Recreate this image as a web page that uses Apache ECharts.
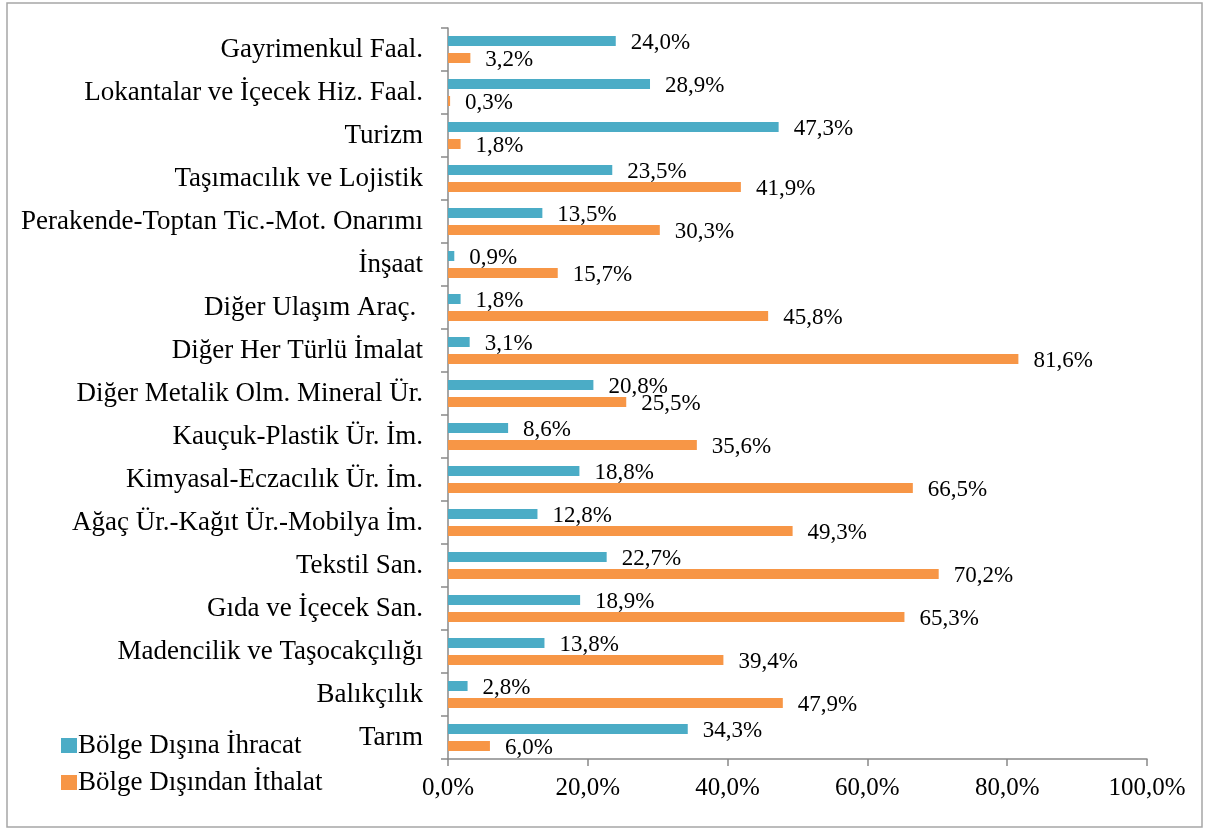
<!DOCTYPE html>
<html>
<head>
<meta charset="utf-8">
<script src="https://cdn.jsdelivr.net/npm/echarts@6/dist/echarts.min.js"></script>
<style>
  html, body { margin: 0; padding: 0; background: #fff; }
  #chart { width: 1206px; height: 829px; }
</style>
</head>
<body>
<div id="chart"></div>
<script>
// top to bottom, as in the picture
const sektorler = [
  "Gayrimenkul Faal.",
  "Lokantalar ve İçecek Hiz. Faal.",
  "Turizm",
  "Taşımacılık ve Lojistik",
  "Perakende-Toptan Tic.-Mot. Onarımı",
  "İnşaat",
  "Diğer Ulaşım Araç. ",
  "Diğer Her Türlü İmalat",
  "Diğer Metalik Olm. Mineral Ür.",
  "Kauçuk-Plastik Ür. İm.",
  "Kimyasal-Eczacılık Ür. İm.",
  "Ağaç Ür.-Kağıt Ür.-Mobilya İm.",
  "Tekstil San.",
  "Gıda ve İçecek San.",
  "Madencilik ve Taşocakçılığı",
  "Balıkçılık",
  "Tarım",
];
const ihracat = [24.0, 28.9, 47.3, 23.5, 13.5, 0.9, 1.8, 3.1, 20.8, 8.6, 18.8, 12.8, 22.7, 18.9, 13.8, 2.8, 34.3];
const ithalat = [3.2, 0.3, 1.8, 41.9, 30.3, 15.7, 45.8, 81.6, 25.5, 35.6, 66.5, 49.3, 70.2, 65.3, 39.4, 47.9, 6.0];
const xTicks = [0, 20, 40, 60, 80, 100];

const fontAile = "'Liberation Serif', 'Times New Roman', serif";
const yuzde = (v) => v.toFixed(1).replace(".", ",") + "%";

const chart = echarts.init(document.getElementById("chart"));

const etiket = {
  show: true,
  position: "right",
  distance: 15,
  offset: [0, 2],
  color: "#000",
  fontFamily: fontAile,
  fontSize: 23,
  formatter: (p) => yuzde(p.value),
};

const option = {
  animation: false,
  textStyle: { fontFamily: fontAile },
  graphic: [
    {
      type: "rect",
      shape: { x: 7, y: 3, width: 1195, height: 824 },
      style: { fill: "none", stroke: "#a6a6a6", lineWidth: 1.5 },
    },
  ],
  legend: {
    orient: "vertical",
    left: 56,
    top: 727,
    itemWidth: 16,
    itemHeight: 15,
    itemGap: 10,
    icon: "rect",
    data: ["Bölge Dışına İhracat", "Bölge Dışından İthalat"],
    textStyle: { fontFamily: fontAile, fontSize: 27, color: "#000", padding: [0, 0, 0, -4] },
  },
  grid: {
    left: 448,
    right: 59,
    top: 28,
    bottom: 70,
    containLabel: false,
  },
  xAxis: {
    type: "value",
    position: "bottom",
    min: xTicks[0],
    max: xTicks[xTicks.length - 1],
    interval: xTicks[1] - xTicks[0],
    splitLine: { show: false },
    axisLine: { show: true, lineStyle: { color: "#898989", width: 1.5 } },
    axisTick: { show: true, length: 7, lineStyle: { color: "#898989", width: 1.5 } },
    axisLabel: {
      margin: 17,
      color: "#000",
      fontFamily: fontAile,
      fontSize: 25,
      formatter: (v) => yuzde(v),
    },
  },
  yAxis: {
    type: "category",
    inverse: true,
    data: sektorler,
    axisLine: { show: true, lineStyle: { color: "#898989", width: 1.5 } },
    axisTick: { show: true, length: 7, lineStyle: { color: "#898989", width: 1.5 } },
    axisLabel: {
      margin: 25,
      color: "#000",
      fontFamily: fontAile,
      fontSize: 27,
    },
  },
  series: [
    {
      name: "Bölge Dışına İhracat",
      type: "bar",
      data: ihracat,
      barWidth: 10,
      barGap: "70%",
      itemStyle: { color: "#4bacc6" },
      label: etiket,
    },
    {
      name: "Bölge Dışından İthalat",
      type: "bar",
      data: ithalat,
      barWidth: 10,
      barGap: "70%",
      itemStyle: { color: "#f79646" },
      label: etiket,
    },
  ],
};

chart.setOption(option);
</script>
</body>
</html>
